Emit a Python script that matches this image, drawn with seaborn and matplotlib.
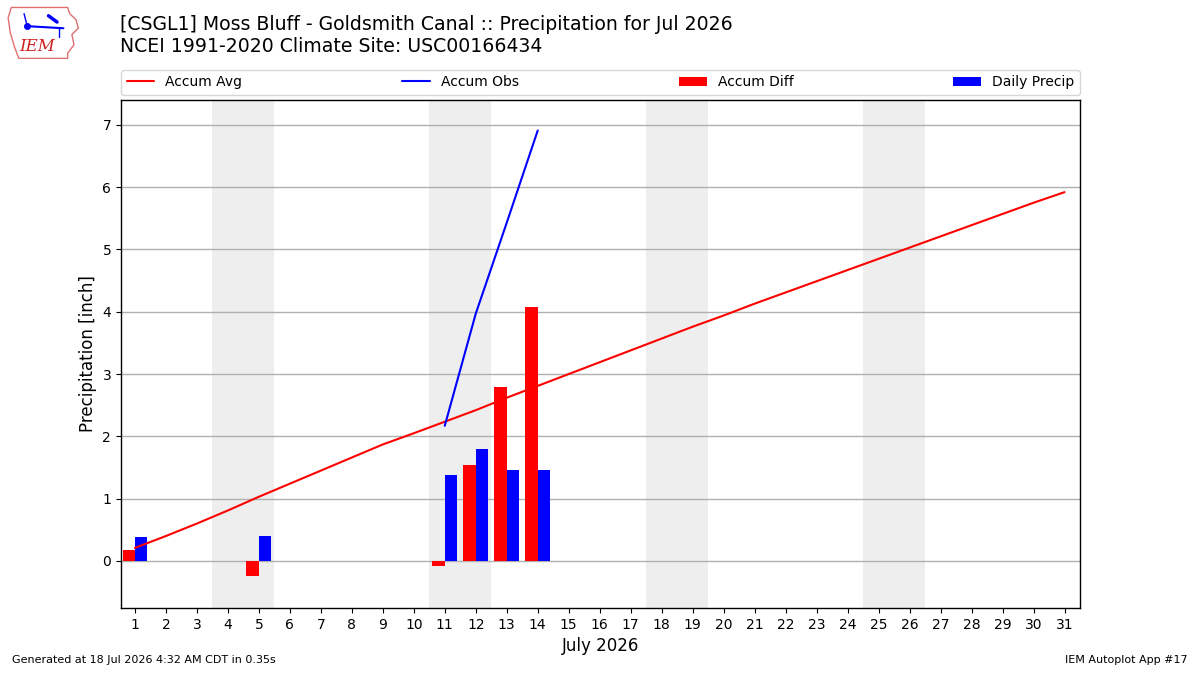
import numpy as np
import pandas as pd
import matplotlib
matplotlib.use("Agg")
import matplotlib.pyplot as plt
from matplotlib.patches import Patch, Polygon
from matplotlib.lines import Line2D
import seaborn as sns

# ---- data ----
days = list(range(1, 32))
accum_avg = [0.21, 0.40, 0.60, 0.81, 1.03, 1.24, 1.45, 1.66, 1.87, 2.05,
             2.235, 2.42, 2.62, 2.81, 3.00, 3.19, 3.38, 3.57, 3.76, 3.94,
             4.13, 4.31, 4.49, 4.67, 4.85, 5.03, 5.21, 5.39, 5.57, 5.75, 5.92]
obs_days = [11, 12, 13, 14]
accum_obs = [2.17, 3.97, 5.43, 6.91]
bar_days = [1, 5, 11, 12, 13, 14]
accum_diff = [0.18, -0.24, -0.075, 1.54, 2.80, 4.08]
daily_precip = [0.39, 0.405, 1.38, 1.80, 1.46, 1.46]
weekends = [(4, 5), (11, 12), (18, 19), (25, 26)]

title1 = "[CSGL1] Moss Bluff - Goldsmith Canal :: Precipitation for Jul 2026"
title2 = "NCEI 1991-2020 Climate Site: USC00166434"
footer_left = "Generated at 18 Jul 2026 4:32 AM CDT in 0.35s"
footer_right = "IEM Autoplot App #17"

sns.set_style("ticks")
plt.rcParams['font.family'] = ['DejaVu Sans']
for k in ["text.color", "axes.labelcolor", "xtick.color", "ytick.color"]:
    plt.rcParams[k] = "black"

fig = plt.figure(figsize=(12, 6.75), dpi=100)
ax = fig.add_axes([0.1008, 0.0993, 0.7992, 0.7526])

for a, b in weekends:
    ax.axvspan(a - 0.5, b + 0.5, color="#eeeeee", zorder=0, lw=0)

ax.bar(bar_days, accum_diff, width=-0.4, align="edge", color="red",
       edgecolor="none", linewidth=0, zorder=2)
ax.bar(bar_days, daily_precip, width=0.4, align="edge", color="blue",
       edgecolor="none", linewidth=0, zorder=2)

df_avg = pd.DataFrame({"day": days, "val": accum_avg})
df_obs = pd.DataFrame({"day": obs_days, "val": accum_obs})
sns.lineplot(data=df_avg, x="day", y="val", color="red", lw=1.5, ax=ax, zorder=3)
sns.lineplot(data=df_obs, x="day", y="val", color="blue", lw=1.5, ax=ax, zorder=3)

ax.set_xlim(0.55, 31.5)
ax.set_ylim(-0.755, 7.4)
ax.set_xticks(days)
ax.set_xticklabels([str(d) for d in days], fontsize=10)
ax.set_yticks(range(0, 8))
ax.tick_params(axis='y', labelsize=10)
ax.yaxis.grid(True, color="#b0b0b0", lw=1, zorder=1)
ax.set_axisbelow(True)
for s in ax.spines.values():
    s.set_color("black")
    s.set_linewidth(1)
ax.set_xlabel("July 2026", fontsize=12)
ax.set_ylabel("Precipitation [inch]", fontsize=12)

handles = [Line2D([], [], color="red", lw=1.5),
           Line2D([], [], color="blue", lw=1.5),
           Patch(facecolor="red", edgecolor="none"),
           Patch(facecolor="blue", edgecolor="none")]
labels = ["Accum Avg", "Accum Obs", "Accum Diff", "Daily Precip"]
leg = ax.legend(handles, labels, loc="lower left", bbox_to_anchor=(0, 1.01, 1, 0.05),
                mode="expand", ncol=4, fontsize=10, frameon=True, borderaxespad=0)
for t in leg.get_texts():
    t.set_color("black")

fig.text(0.1, 0.9644, title1, fontsize=13.6, va="center", ha="left")
fig.text(0.1, 0.9304, title2, fontsize=13.6, va="center", ha="left")
fig.text(0.01, 0.015, footer_left, fontsize=8, ha="left", va="bottom")
fig.text(0.99, 0.015, footer_right, fontsize=8, ha="right", va="bottom")

# simple logo
lax = fig.add_axes([0.005, 0.912, 0.062, 0.08])
lax.set_xlim(0, 70)
lax.set_ylim(0, 52)
lax.axis("off")
outline = [(5, 50), (58, 50), (60, 44), (66, 38), (68, 30), (62, 24), (64, 14),
           (58, 6), (58, 1), (12, 1), (8, 12), (4, 26), (2, 40)]
lax.add_patch(Polygon(outline, closed=True, fill=False, ec="#e07070", lw=1))
lax.plot([20, 54], [32, 30], color="blue", lw=1.5)
lax.plot([20], [32], "o", color="blue", ms=4)
lax.plot([50, 50], [30, 22], color="blue", lw=1)
lax.plot([17, 20], [44, 32], color="blue", lw=1)
lax.plot([40, 48], [42, 36], color="blue", lw=2.5)
lax.text(12, 12, "IEM", color="#d02020", fontsize=12, family="DejaVu Serif",
         style="italic", va="center")

fig.savefig("out.png", dpi=100)
